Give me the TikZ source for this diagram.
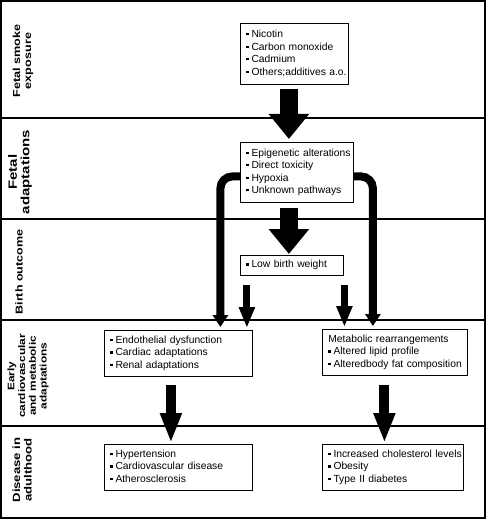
\documentclass[tikz,border=0pt]{standalone}
\usepackage{fontspec}
\setmainfont{Liberation Sans}
\newfontfamily\boxfont{Liberation Sans}
\newfontfamily\labfont[FakeStretch=1.25]{Liberation Sans}
\usetikzlibrary{arrows.meta,calc}
\newcommand\sqb{\rule[0.22em]{2.3pt}{2.3pt}\hspace{2.8pt}}
\tikzset{
  infobox/.style={draw, line width=0.8pt, rectangle, anchor=north west,
    inner xsep=6pt, inner ysep=0pt, align=left,
    font=\boxfont\fontsize{10.3}{12.5}\selectfont},
  lab/.style={rotate=90, align=center},
  bigarrow/.style={line width=18pt, -{Triangle[width=39pt,length=25pt]}},
  curvearrow/.style={line width=8pt, rounded corners=12pt, -{Triangle[width=15pt,length=12pt]}},
  smallarrow/.style={line width=7pt, -{Triangle[width=15pt,length=21pt]}},
  midarrow/.style={line width=10pt, -{Triangle[width=20pt,length=30pt]}},
  frameline/.style={line width=1.2pt}
}
\begin{document}
\begin{tikzpicture}[x=1pt,y=-1pt]
\useasboundingbox (0,0) rectangle (488,521);
% frame and lanes
\draw[frameline] (1,1) rectangle (485,518);
\foreach \yy in {118,219,320,426} \draw[frameline] (1,\yy) -- (485,\yy);
% lane labels
\node[lab, font=\labfont\bfseries\fontsize{10.1}{10.8}\selectfont] (L1) at (23,61) {Fetal smoke\\exposure};
\node[lab, font=\labfont\bfseries\fontsize{12}{12.5}\selectfont] (L2) at (20,172) {Fetal\\adaptations};
\node[lab, font=\labfont\bfseries\fontsize{10}{11}\selectfont] (L3) at (19,272) {Birth outcome};
\node[lab, font=\labfont\bfseries\fontsize{9.5}{10.8}\selectfont] (L4) at (28,376) {Early\\cardiovascular\\and metabolic\\adaptations};
\node[lab, font=\labfont\bfseries\fontsize{10.5}{11.5}\selectfont] (L5) at (22,470) {Disease in\\adulthood};
% boxes
\node[infobox, minimum width=108pt, minimum height=61pt, text width=96pt] (B1) at (240,23)
  {\begin{tabular}{@{}l@{}}\sqb Nicotin\\ \sqb Carbon monoxide\\ \sqb Cadmium\\ \sqb Others;additives a.o.\end{tabular}};
\node[infobox, minimum width=113pt, minimum height=60pt, text width=101pt] (B2) at (240,142)
  {\begin{tabular}{@{}l@{}}\sqb Epigenetic alterations\\ \sqb Direct toxicity\\ \sqb Hypoxia\\ \sqb Unknown pathways\end{tabular}};
\node[infobox, minimum width=103pt, minimum height=20pt, text width=91pt] (B3) at (240,255)
  {\begin{tabular}{@{}l@{}}\sqb Low birth weight\end{tabular}};
\node[infobox, minimum width=148pt, minimum height=46pt, text width=136pt] (B4) at (104,330)
  {\begin{tabular}{@{}l@{}}\sqb Endothelial dysfunction\\ \sqb Cardiac adaptations\\ \sqb Renal adaptations\end{tabular}};
\node[infobox, minimum width=145pt, minimum height=46pt, text width=133pt] (B5) at (322,329)
  {\begin{tabular}{@{}l@{}}Metabolic rearrangements\\ \sqb Altered lipid profile\\ \sqb Alteredbody fat composition\end{tabular}};
\node[infobox, minimum width=148pt, minimum height=46pt, text width=136pt] (B6) at (104,444)
  {\begin{tabular}{@{}l@{}}\sqb Hypertension\\ \sqb Cardiovascular disease\\ \sqb Atherosclerosis\end{tabular}};
\node[infobox, minimum width=141pt, minimum height=46pt, text width=129pt] (B7) at (322,444)
  {\begin{tabular}{@{}l@{}}\sqb Increased cholesterol levels\\ \sqb Obesity\\ \sqb Type II diabetes\end{tabular}};
% connectors
\draw[bigarrow, shorten <=4pt, shorten >=3pt] ([xshift=-5.5pt]B1.south) -- ([xshift=-5.5pt]B1.south |- B2.north);
\draw[bigarrow, shorten <=5pt, shorten >=1pt] ([xshift=-8pt]B2.south) -- ([xshift=-8pt]B2.south |- B3.north);
\draw[curvearrow, shorten >=3pt] ([yshift=-4pt]B2.west) -| ([xshift=42pt]B4.north);
\draw[curvearrow, shorten >=3pt] ([yshift=-4pt]B2.east) -| ([xshift=-22pt]B5.north);
\draw[smallarrow, shorten <=9pt, shorten >=2pt] ([xshift=-45pt]B3.south) -- ([xshift=-45pt]B3.south |- B4.north);
\draw[smallarrow, shorten <=9pt, shorten >=2pt] ([xshift=52.5pt]B3.south) -- ([xshift=52.5pt]B3.south |- B5.north);
\draw[midarrow, shorten <=8pt, shorten >=1pt] ([xshift=-7.5pt]B4.south) -- ([xshift=-7.5pt]B4.south |- B6.north);
\draw[midarrow, shorten <=9pt, shorten >=1pt] ([xshift=-10.5pt]B5.south) -- ([xshift=-10.5pt]B5.south |- B7.north);
\end{tikzpicture}
\end{document}
